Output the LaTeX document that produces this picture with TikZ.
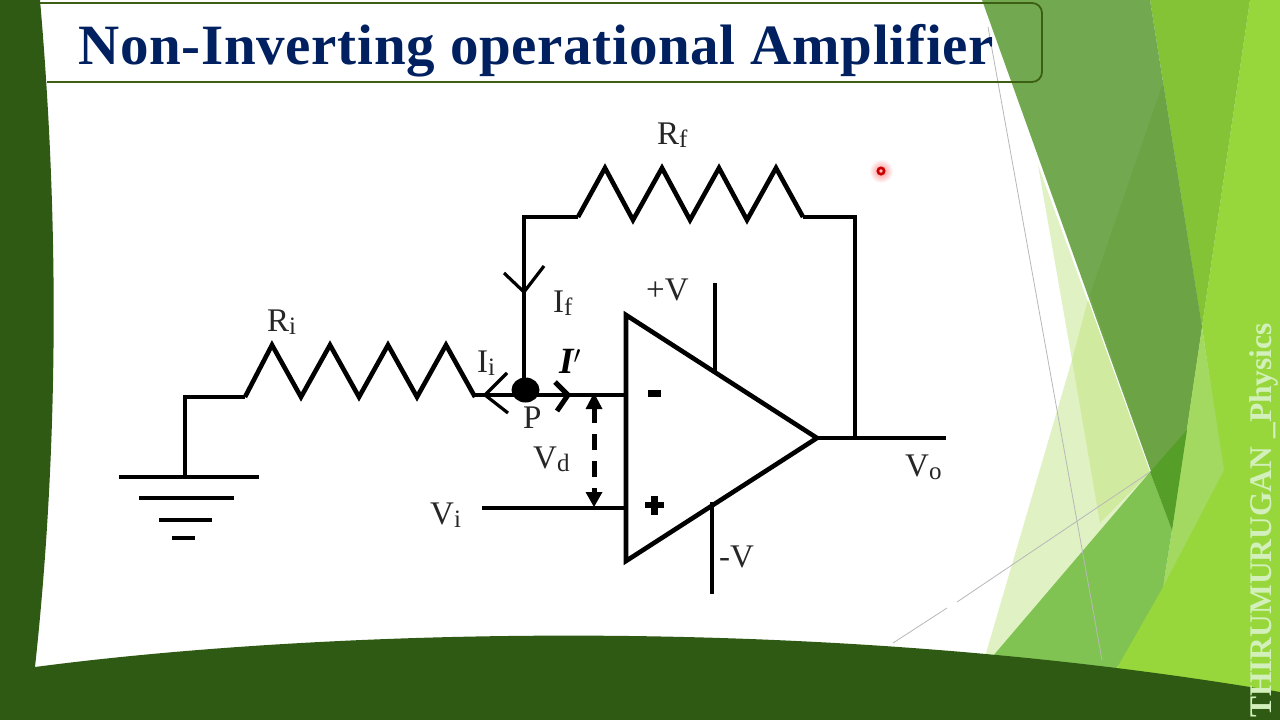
\documentclass[tikz,border=0pt]{standalone}
\usepackage{fontspec}
\usetikzlibrary{calc}
\setmainfont{Liberation Serif}
\definecolor{darkg}{HTML}{2F5A13}
\definecolor{titleb}{HTML}{002060}
\definecolor{midA}{HTML}{72A850}
\definecolor{midB}{HTML}{6BA345}
\definecolor{limeA}{HTML}{85C336}
\definecolor{limeB}{HTML}{97D73C}
\definecolor{limeC}{HTML}{A3D960}
\definecolor{paleA}{HTML}{E0F1C4}
\definecolor{paleB}{HTML}{D0EBA0}
\definecolor{greenT}{HTML}{80C353}
\definecolor{greenD}{HTML}{559E28}
\definecolor{wm}{HTML}{D3F0BC}
\definecolor{frame}{HTML}{3C5F14}
\tikzset{
  wire/.style={line width=4.6pt,black,line cap=butt,line join=miter},
  chev/.style={line width=3.2pt,black,line join=miter},
  lab/.style={inner sep=0pt,font=\fontsize{33}{35}\selectfont,text=black!85},
  gline/.style={line width=.8pt,black!28},
}
\newcommand{\sbs}[1]{\raisebox{-3.5pt}{\fontsize{25}{26}\selectfont #1}}
\begin{document}
\begin{tikzpicture}[x=1pt,y=-1pt]
\useasboundingbox (0,0) rectangle (1280,720);
\fill[white] (0,0) rectangle (1280,720);
% background shards
\fill[limeB] (1250,0) -- (1280,0) -- (1280,720) -- (1100,720) -- (1120,660) -- (1223,470) -- (1202,327) -- cycle;
\fill[limeA] (1150,0) -- (1250,0) -- (1202,327) -- cycle;
\fill[paleA] (1038,165) -- (1150,472) -- (975,677) -- (979,677) -- (1072,360) -- cycle;
\fill[paleB] (1088,300) -- (1150,472) -- (1100,523) -- (1072,360) -- cycle;
\fill[midA] (982,0) -- (1150,0) -- (1202,327) -- (1172,530) -- cycle;
\fill[midB] (1163,83) -- (1202,327) -- (1172,530) -- (1090,295) -- cycle;
\fill[limeC] (1202,327) -- (1224,470) -- (1163,587) -- (1172,530) -- cycle;
\fill[greenT] (975,677) -- (1150,472) -- (1172,530) -- (1163,587) -- (1110,680) -- cycle;
\fill[greenD] (1150,472) -- (1187,430) -- (1172,530) -- cycle;
\draw[gline] (988,27) -- (1102,660);
\draw[gline] (1150,472) -- (957,602);
\draw[gline] (947,608) -- (893,643);
% dark frame
\fill[darkg] (0,0) -- (40,0) .. controls (54,160) and (64,400) .. (35,667) -- (0,720) -- cycle;
\fill[darkg] (35,667) .. controls (300,632) and (800,610) .. (1280,692) -- (1280,720) -- (0,720) -- (0,660) -- cycle;
% title
\draw[frame,line width=1.8pt,rounded corners=10pt] (40,3) -- (1042,3) -- (1042,82) -- (47,82);
\node[inner sep=0pt,anchor=base west,font=\fontsize{57}{60}\selectfont\bfseries\addfontfeature{LetterSpace=1.25},text=titleb] (title) at (78,64) {Non-Inverting operational Amplifier};
% watermark
\node[inner sep=0pt,anchor=base west,rotate=90,font=\fontsize{31.5}{33}\selectfont\bfseries,text=wm] (wmark) at (1271,718) {THIRUMURUGAN \_Physics};
% coordinates
\coordinate (g1) at (119,477); \coordinate (g2) at (259,477);
\coordinate (g3) at (139,498); \coordinate (g4) at (234,498);
\coordinate (g5) at (159,520); \coordinate (g6) at (212,520);
\coordinate (g7) at (172,538); \coordinate (g8) at (195,538);
\coordinate (gt) at (185,477); \coordinate (gc) at (185,397);
\coordinate (ril) at (245,397); \coordinate (rir) at (475,397);
\coordinate (inv) at (626,395); \coordinate (nonin) at (626,508);
\coordinate (vi) at (482,508);
\coordinate (jt) at (524,391); \coordinate (jc) at (524,217);
\coordinate (rfl) at (578,217); \coordinate (rfr) at (803,217);
\coordinate (fc) at (855,217); \coordinate (fe) at (855,438);
\coordinate (a1) at (626,315); \coordinate (a2) at (817,438); \coordinate (a3) at (626,561);
\coordinate (out) at (946,438);
\coordinate (pv1) at (715,283); \coordinate (pv2) at (715,371);
\coordinate (mv1) at (712,502); \coordinate (mv2) at (712,594);
\coordinate (vd1) at (594,393); \coordinate (vd2) at (594,507);
% circuit
\draw[wire] (g1) -- (g2);
\draw[wire] (g3) -- (g4);
\draw[wire] (g5) -- (g6);
\draw[wire] (g7) -- (g8);
\draw[wire] (gt) -- (gc) -- (ril);
\draw[wire] (ril) -- (272,345) -- (301,397) -- (330,345) -- (359,397) -- (388,345) -- (417,397) -- (446,345) -- (rir);
\draw[wire] (473,395) -- (inv);
\draw[wire] (jt) -- (jc) -- (rfl);
\draw[wire] (rfl) -- (605,168) -- (633,220) -- (662,168) -- (690,220) -- (719,168) -- (747,220) -- (776,168) -- (rfr);
\draw[wire] (rfr) -- (fc) -- (fe);
\draw[wire] (a1) -- (a2) -- (a3) -- cycle;
\draw[wire] (a2) -- (out);
\draw[wire] (pv1) -- (pv2);
\draw[wire] (mv1) -- (mv2);
\draw[wire] (vi) -- (nonin);
\fill[black] (525.5,390) ellipse (14 and 12.5);
% current arrowheads
\draw[chev] (507,373) -- (485,395) -- (508,413);
\draw[chev] (504,273) -- (524,292) -- (544,266);
\draw[line width=5pt] (555,382) -- (568,395) -- (557,411);
% Vd
\draw[line width=5pt,dash pattern=on 16pt off 11pt] (594,407) -- (594,493);
\fill (vd1) -- ++(-8.5,16) -- ++(17,0) -- cycle;
\fill (vd2) -- ++(-8.5,-15) -- ++(17,0) -- cycle;
% signs
\fill (648,390) rectangle (661,397);
\fill (645,502) rectangle (664,508);
\fill (651,496) rectangle (658,515);
% labels
\node[lab,anchor=base west] (lrf) at (657,144) {R\sbs{f}};
\node[lab,anchor=base west] (lri) at (267,331) {R\sbs{i}};
\node[lab,anchor=base west] (lif) at (553,312) {I\sbs{f}};
\node[lab,anchor=base west] (lii) at (477,372) {I\sbs{i}};
\node[lab,anchor=base west,font=\fontsize{37}{38}\selectfont\bfseries\itshape,text=black] (lip) at (559,373) {I$'$};
\node[lab,anchor=base west] (lp) at (523,428) {P};
\node[lab,anchor=base west] (lvd) at (533,468) {V\sbs{d}};
\node[lab,anchor=base west] (lvi) at (430,524) {V\sbs{i}};
\node[lab,anchor=base west] (lvo) at (905,476) {V\sbs{o}};
\node[lab,anchor=base west] (lpv) at (646,300) {+V};
\node[lab,anchor=base west] (lmv) at (719,567) {-V};
% pointer dot
\shade[inner color=red!45,outer color=white] (881,171) circle (12);
\fill[red!80!black] (881,171) circle (4.6);
\fill[red!25] (881,171) circle (1.8);
\end{tikzpicture}
\end{document}
